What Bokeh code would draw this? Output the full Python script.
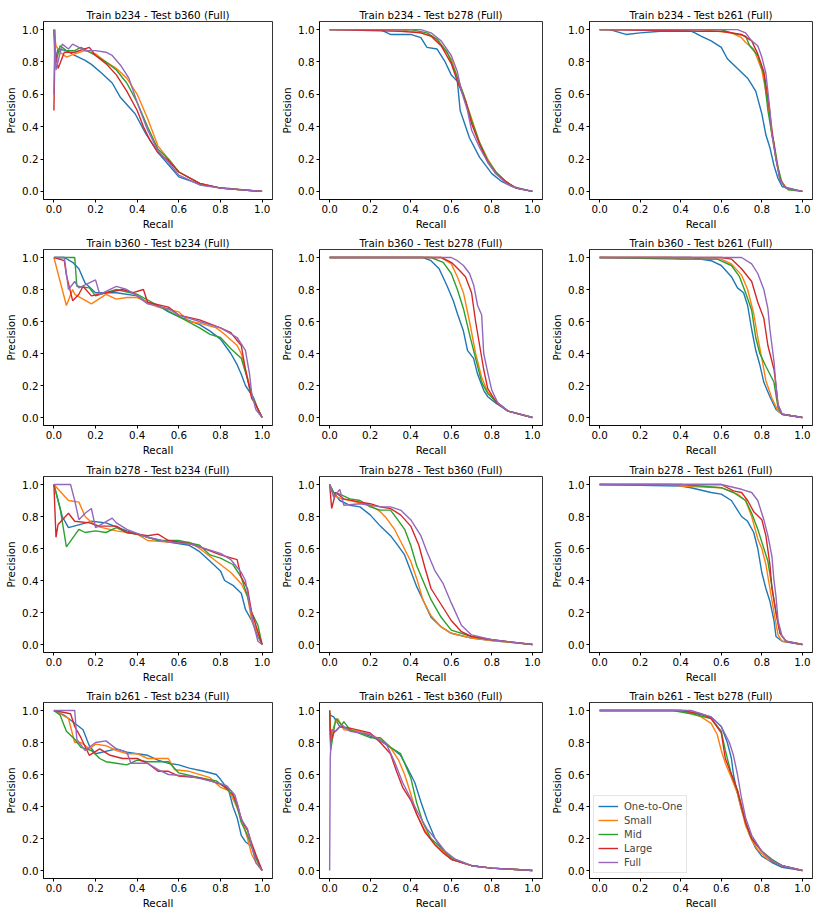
from bokeh.plotting import figure
from bokeh.layouts import gridplot
from bokeh.models import FixedTicker, Range1d
from bokeh.embed import file_html
from bokeh.resources import INLINE

SERIES = ["One-to-One", "Small", "Mid", "Large", "Full"]
COLORS = ["#1f77b4", "#ff7f0e", "#2ca02c", "#d62728", "#9467bd"]
TICKS = [0.0, 0.2, 0.4, 0.6, 0.8, 1.0]
TICK_LABELS = ["0.0", "0.2", "0.4", "0.6", "0.8", "1.0"]

# ---- Train b234 - Test b360 ----
B234_B360_ONE = [(0,1.0),(0.005,0.8),(0.02,0.88),(0.06,0.87),(0.1,0.84),(0.15,0.81),(0.18,0.785),(0.23,0.73),(0.28,0.67),(0.32,0.58),(0.39,0.48),(0.44,0.36),(0.5,0.24),(0.6,0.09),(0.71,0.04),(0.79,0.025),(1,0)]
B234_B360_SMALL = [(0,1.0),(0.01,0.9),(0.03,0.86),(0.06,0.83),(0.1,0.85),(0.15,0.87),(0.2,0.85),(0.25,0.8),(0.3,0.76),(0.35,0.7),(0.4,0.6),(0.45,0.45),(0.5,0.28),(0.55,0.2),(0.6,0.12),(0.7,0.05),(0.8,0.02),(1,0)]
B234_B360_MID = [(0,1.0),(0.01,0.8),(0.03,0.9),(0.06,0.87),(0.1,0.87),(0.13,0.89),(0.2,0.84),(0.25,0.8),(0.3,0.75),(0.35,0.67),(0.4,0.55),(0.45,0.4),(0.5,0.26),(0.55,0.2),(0.6,0.12),(0.7,0.05),(0.8,0.02),(1,0)]
B234_B360_LARGE = [(0,0.5),(0.005,0.88),(0.02,0.76),(0.05,0.86),(0.1,0.86),(0.17,0.89),(0.2,0.84),(0.25,0.79),(0.3,0.72),(0.35,0.62),(0.4,0.5),(0.43,0.4),(0.46,0.32),(0.5,0.24),(0.55,0.19),(0.6,0.12),(0.7,0.05),(0.8,0.02),(1,0)]
B234_B360_FULL = [(0,0.6),(0.005,1.0),(0.01,0.75),(0.04,0.91),(0.07,0.88),(0.09,0.91),(0.15,0.87),(0.2,0.87),(0.25,0.86),(0.28,0.84),(0.32,0.78),(0.36,0.7),(0.4,0.55),(0.45,0.38),(0.5,0.25),(0.55,0.18),(0.6,0.1),(0.7,0.04),(0.8,0.02),(1,0)]

# ---- Train b234 - Test b278 ----
B234_B278_ONE = [(0,1),(0.25,1),(0.3,0.97),(0.4,0.97),(0.45,0.95),(0.48,0.89),(0.53,0.88),(0.57,0.8),(0.6,0.72),(0.63,0.68),(0.644,0.5),(0.69,0.33),(0.74,0.21),(0.8,0.11),(0.85,0.06),(0.9,0.03),(1,0)]
B234_B278_SMALL = [(0,1),(0.35,1),(0.45,0.98),(0.5,0.96),(0.55,0.9),(0.6,0.82),(0.63,0.7),(0.66,0.6),(0.7,0.45),(0.74,0.3),(0.78,0.2),(0.82,0.12),(0.87,0.06),(0.92,0.02),(1,0)]
B234_B278_MID = [(0,1),(0.4,1),(0.48,0.98),(0.53,0.94),(0.58,0.86),(0.62,0.74),(0.66,0.6),(0.7,0.44),(0.74,0.3),(0.78,0.19),(0.82,0.12),(0.87,0.06),(0.92,0.02),(1,0)]
B234_B278_LARGE = [(0,1),(0.35,0.99),(0.45,0.98),(0.5,0.96),(0.55,0.9),(0.6,0.79),(0.63,0.68),(0.67,0.56),(0.7,0.42),(0.74,0.29),(0.78,0.18),(0.82,0.11),(0.87,0.06),(0.92,0.02),(1,0)]
B234_B278_FULL = [(0,1),(0.45,1),(0.5,0.98),(0.55,0.93),(0.6,0.84),(0.63,0.74),(0.65,0.62),(0.68,0.5),(0.7,0.38),(0.74,0.27),(0.78,0.18),(0.82,0.11),(0.87,0.05),(0.92,0.02),(1,0)]

# ---- Train b234 - Test b261 ----
B234_B261_ONE = [(0,1),(0.05,1),(0.13,0.97),(0.2,0.98),(0.3,0.99),(0.45,0.99),(0.47,0.98),(0.5,0.96),(0.55,0.93),(0.6,0.89),(0.63,0.82),(0.68,0.76),(0.73,0.7),(0.77,0.62),(0.8,0.48),(0.82,0.35),(0.84,0.27),(0.86,0.16),(0.88,0.08),(0.9,0.03),(1,0)]
B234_B261_SMALL = [(0,1),(0.5,1),(0.65,0.98),(0.7,0.95),(0.72,0.92),(0.76,0.88),(0.8,0.75),(0.83,0.55),(0.85,0.35),(0.87,0.2),(0.89,0.08),(0.92,0.02),(1,0)]
B234_B261_MID = [(0,1),(0.6,1),(0.65,0.98),(0.72,0.96),(0.74,0.9),(0.78,0.84),(0.81,0.72),(0.83,0.5),(0.85,0.35),(0.86,0.3),(0.88,0.15),(0.9,0.05),(0.93,0.01),(1,0)]
B234_B261_LARGE = [(0,1),(0.5,0.99),(0.6,0.99),(0.7,0.97),(0.75,0.93),(0.78,0.85),(0.81,0.74),(0.83,0.58),(0.85,0.38),(0.87,0.2),(0.89,0.07),(0.92,0.02),(1,0)]
B234_B261_FULL = [(0,1),(0.68,1),(0.72,0.98),(0.75,0.93),(0.78,0.9),(0.8,0.83),(0.82,0.73),(0.84,0.5),(0.85,0.35),(0.87,0.2),(0.89,0.07),(0.92,0.02),(1,0)]

# ---- Train b360 - Test b234 ----
B360_B234_ONE = [(0,1),(0.05,1),(0.09,0.97),(0.12,0.93),(0.15,0.84),(0.2,0.78),(0.3,0.78),(0.4,0.76),(0.45,0.72),(0.5,0.7),(0.55,0.66),(0.6,0.63),(0.7,0.58),(0.75,0.54),(0.8,0.49),(0.85,0.4),(0.88,0.33),(0.9,0.27),(0.92,0.2),(0.94,0.16),(0.96,0.12),(0.98,0.05),(1,0)]
B360_B234_SMALL = [(0,1),(0.06,0.7),(0.09,0.8),(0.1,0.77),(0.18,0.71),(0.25,0.77),(0.3,0.74),(0.35,0.75),(0.4,0.75),(0.5,0.69),(0.6,0.66),(0.65,0.6),(0.7,0.59),(0.78,0.56),(0.82,0.52),(0.88,0.45),(0.9,0.4),(0.93,0.25),(0.95,0.13),(0.97,0.08),(1,0)]
B360_B234_MID = [(0,1),(0.04,1),(0.1,1),(0.11,0.82),(0.17,0.81),(0.2,0.76),(0.3,0.8),(0.4,0.77),(0.5,0.7),(0.6,0.63),(0.7,0.56),(0.75,0.52),(0.8,0.5),(0.85,0.43),(0.9,0.37),(0.93,0.24),(0.95,0.15),(0.97,0.08),(1,0)]
B360_B234_LARGE = [(0,1),(0.05,0.98),(0.06,0.89),(0.09,0.73),(0.12,0.77),(0.14,0.82),(0.18,0.76),(0.25,0.78),(0.33,0.8),(0.38,0.78),(0.43,0.8),(0.45,0.72),(0.55,0.69),(0.6,0.64),(0.7,0.61),(0.8,0.56),(0.85,0.53),(0.9,0.45),(0.92,0.3),(0.95,0.12),(0.97,0.08),(1,0)]
B360_B234_FULL = [(0,1),(0.05,1),(0.07,0.8),(0.1,0.85),(0.12,0.81),(0.2,0.86),(0.22,0.77),(0.3,0.82),(0.35,0.8),(0.4,0.76),(0.45,0.71),(0.55,0.68),(0.6,0.64),(0.7,0.6),(0.8,0.56),(0.88,0.5),(0.9,0.46),(0.92,0.42),(0.94,0.27),(0.95,0.15),(0.97,0.05),(1,0)]

# ---- Train b360 - Test b278 ----
B360_B278_ONE = [(0,1),(0.46,1),(0.5,0.98),(0.54,0.93),(0.58,0.82),(0.61,0.73),(0.63,0.65),(0.66,0.54),(0.68,0.42),(0.71,0.37),(0.73,0.27),(0.76,0.17),(0.78,0.13),(0.82,0.09),(0.88,0.04),(1,0)]
B360_B278_SMALL = [(0,1),(0.55,1),(0.6,0.96),(0.63,0.88),(0.66,0.78),(0.69,0.6),(0.72,0.4),(0.75,0.25),(0.78,0.16),(0.82,0.1),(0.88,0.04),(1,0)]
B360_B278_MID = [(0,1),(0.5,1),(0.56,0.97),(0.6,0.9),(0.63,0.8),(0.66,0.68),(0.69,0.52),(0.72,0.37),(0.75,0.22),(0.78,0.15),(0.82,0.1),(0.88,0.04),(1,0)]
B360_B278_LARGE = [(0,1),(0.55,1),(0.6,0.97),(0.64,0.92),(0.67,0.88),(0.7,0.78),(0.72,0.6),(0.74,0.45),(0.76,0.3),(0.78,0.18),(0.82,0.1),(0.88,0.04),(1,0)]
B360_B278_FULL = [(0,1),(0.6,1),(0.63,0.98),(0.66,0.95),(0.69,0.9),(0.71,0.83),(0.73,0.7),(0.75,0.64),(0.76,0.4),(0.78,0.28),(0.8,0.17),(0.83,0.09),(0.88,0.04),(1,0)]

# ---- Train b360 - Test b261 ----
B360_B261_ONE = [(0,1),(0.45,1),(0.55,0.98),(0.6,0.95),(0.65,0.88),(0.68,0.81),(0.71,0.78),(0.73,0.7),(0.75,0.55),(0.77,0.42),(0.79,0.33),(0.81,0.22),(0.84,0.13),(0.87,0.05),(0.9,0.02),(1,0)]
B360_B261_SMALL = [(0,1),(0.35,1),(0.4,0.99),(0.6,0.99),(0.65,0.96),(0.7,0.89),(0.73,0.8),(0.76,0.65),(0.78,0.5),(0.8,0.37),(0.82,0.23),(0.85,0.12),(0.88,0.04),(0.9,0.02),(1,0)]
B360_B261_MID = [(0,1),(0.4,0.99),(0.58,0.99),(0.65,0.95),(0.69,0.88),(0.72,0.78),(0.75,0.67),(0.77,0.5),(0.79,0.4),(0.82,0.32),(0.86,0.22),(0.88,0.06),(0.9,0.02),(1,0)]
B360_B261_LARGE = [(0,1),(0.6,1),(0.65,0.99),(0.7,0.93),(0.75,0.85),(0.78,0.72),(0.81,0.62),(0.83,0.45),(0.86,0.3),(0.87,0.2),(0.88,0.08),(0.9,0.02),(1,0)]
B360_B261_FULL = [(0,1),(0.7,1),(0.75,0.96),(0.78,0.9),(0.81,0.8),(0.83,0.68),(0.84,0.55),(0.86,0.35),(0.87,0.2),(0.88,0.08),(0.9,0.02),(1,0)]

# ---- Train b278 - Test b234 ----
B278_B234_ONE = [(0,1),(0.04,0.8),(0.07,0.73),(0.18,0.77),(0.25,0.76),(0.35,0.71),(0.45,0.67),(0.55,0.64),(0.65,0.62),(0.7,0.58),(0.75,0.52),(0.8,0.46),(0.82,0.4),(0.86,0.37),(0.9,0.32),(0.92,0.22),(0.95,0.15),(0.98,0.05),(1,0)]
B278_B234_SMALL = [(0,1),(0.07,0.9),(0.12,0.89),(0.15,0.8),(0.2,0.74),(0.3,0.71),(0.4,0.69),(0.45,0.65),(0.55,0.64),(0.65,0.64),(0.7,0.6),(0.75,0.55),(0.8,0.5),(0.85,0.45),(0.9,0.38),(0.93,0.3),(0.95,0.15),(0.97,0.1),(1,0)]
B278_B234_MID = [(0,1),(0.03,0.85),(0.06,0.61),(0.12,0.72),(0.15,0.7),(0.2,0.71),(0.25,0.7),(0.3,0.73),(0.35,0.7),(0.4,0.69),(0.5,0.65),(0.6,0.65),(0.7,0.62),(0.75,0.56),(0.8,0.54),(0.86,0.5),(0.9,0.42),(0.93,0.3),(0.95,0.2),(0.98,0.12),(1,0)]
B278_B234_LARGE = [(0,1),(0.01,0.67),(0.02,0.75),(0.07,0.82),(0.1,0.77),(0.17,0.76),(0.22,0.74),(0.3,0.74),(0.35,0.7),(0.45,0.68),(0.5,0.69),(0.55,0.65),(0.65,0.63),(0.7,0.61),(0.8,0.56),(0.88,0.53),(0.9,0.42),(0.93,0.35),(0.95,0.2),(0.98,0.08),(1,0)]
B278_B234_FULL = [(0,1),(0.08,1),(0.1,0.9),(0.12,0.78),(0.15,0.82),(0.18,0.85),(0.2,0.73),(0.28,0.79),(0.3,0.76),(0.35,0.72),(0.45,0.67),(0.55,0.64),(0.65,0.63),(0.7,0.61),(0.8,0.57),(0.85,0.53),(0.9,0.45),(0.92,0.4),(0.94,0.25),(0.96,0.12),(0.98,0.02),(1,0)]

# ---- Train b278 - Test b360 ----
B278_B360_ONE = [(0,1),(0.02,0.95),(0.05,0.9),(0.1,0.87),(0.15,0.86),(0.2,0.81),(0.25,0.74),(0.3,0.68),(0.33,0.63),(0.37,0.56),(0.4,0.46),(0.43,0.36),(0.46,0.28),(0.5,0.17),(0.55,0.11),(0.6,0.07),(0.7,0.04),(0.8,0.025),(1,0)]
B278_B360_SMALL = [(0,1),(0.02,0.93),(0.06,0.91),(0.1,0.9),(0.2,0.87),(0.25,0.83),(0.28,0.79),(0.32,0.72),(0.36,0.62),(0.4,0.52),(0.43,0.41),(0.46,0.28),(0.5,0.18),(0.55,0.11),(0.6,0.07),(0.7,0.04),(0.8,0.025),(1,0)]
B278_B360_MID = [(0,1),(0.02,0.95),(0.05,0.94),(0.1,0.91),(0.15,0.9),(0.2,0.86),(0.25,0.84),(0.3,0.84),(0.33,0.79),(0.37,0.72),(0.4,0.62),(0.43,0.49),(0.46,0.4),(0.5,0.28),(0.55,0.17),(0.6,0.09),(0.7,0.05),(0.8,0.03),(1,0)]
B278_B360_LARGE = [(0,1),(0.01,0.85),(0.03,0.95),(0.07,0.91),(0.15,0.89),(0.2,0.88),(0.25,0.86),(0.3,0.85),(0.35,0.81),(0.4,0.74),(0.44,0.62),(0.47,0.48),(0.5,0.35),(0.55,0.25),(0.6,0.15),(0.65,0.08),(0.7,0.05),(0.8,0.03),(1,0)]
B278_B360_FULL = [(0,1),(0.02,0.92),(0.05,0.97),(0.07,0.87),(0.15,0.88),(0.25,0.86),(0.3,0.86),(0.35,0.84),(0.4,0.78),(0.45,0.68),(0.48,0.58),(0.52,0.46),(0.56,0.38),(0.6,0.26),(0.65,0.12),(0.7,0.06),(0.8,0.03),(1,0)]

# ---- Train b278 - Test b261 ----
B278_B261_ONE = [(0,1),(0.4,0.99),(0.45,0.98),(0.55,0.95),(0.6,0.94),(0.65,0.9),(0.7,0.8),(0.73,0.77),(0.76,0.7),(0.78,0.6),(0.8,0.45),(0.82,0.35),(0.84,0.27),(0.86,0.15),(0.87,0.05),(0.9,0.02),(1,0)]
B278_B261_SMALL = [(0,1),(0.35,1),(0.4,0.99),(0.6,0.98),(0.68,0.94),(0.72,0.9),(0.75,0.8),(0.78,0.66),(0.8,0.6),(0.82,0.5),(0.84,0.35),(0.86,0.2),(0.88,0.06),(0.9,0.02),(1,0)]
B278_B261_MID = [(0,1),(0.4,1),(0.6,0.98),(0.66,0.95),(0.72,0.9),(0.75,0.82),(0.78,0.72),(0.8,0.64),(0.83,0.52),(0.85,0.36),(0.87,0.2),(0.89,0.07),(0.92,0.02),(1,0)]
B278_B261_LARGE = [(0,1),(0.6,1),(0.66,0.96),(0.7,0.95),(0.73,0.9),(0.76,0.83),(0.8,0.78),(0.82,0.68),(0.84,0.5),(0.85,0.35),(0.87,0.2),(0.89,0.07),(0.92,0.02),(1,0)]
B278_B261_FULL = [(0,1),(0.6,1),(0.7,0.97),(0.75,0.95),(0.78,0.9),(0.81,0.78),(0.83,0.68),(0.85,0.55),(0.86,0.4),(0.87,0.3),(0.88,0.15),(0.9,0.05),(0.92,0.02),(1,0)]

# ---- Train b261 - Test b234 ----
B261_B234_ONE = [(0,1),(0.05,0.97),(0.1,0.92),(0.14,0.88),(0.17,0.78),(0.2,0.73),(0.3,0.76),(0.35,0.74),(0.4,0.73),(0.45,0.72),(0.5,0.69),(0.55,0.67),(0.6,0.66),(0.65,0.64),(0.72,0.62),(0.78,0.6),(0.8,0.57),(0.84,0.5),(0.86,0.4),(0.88,0.33),(0.9,0.22),(0.92,0.18),(0.95,0.15),(0.97,0.08),(1,0)]
B261_B234_SMALL = [(0,1),(0.07,0.95),(0.1,0.8),(0.13,0.8),(0.17,0.76),(0.2,0.79),(0.25,0.78),(0.3,0.75),(0.35,0.73),(0.4,0.73),(0.45,0.7),(0.55,0.7),(0.58,0.63),(0.65,0.62),(0.75,0.58),(0.8,0.52),(0.84,0.5),(0.87,0.42),(0.9,0.33),(0.93,0.2),(0.95,0.1),(0.97,0.05),(1,0)]
B261_B234_MID = [(0,1),(0.03,0.97),(0.06,0.87),(0.1,0.82),(0.13,0.77),(0.18,0.75),(0.22,0.7),(0.25,0.68),(0.3,0.67),(0.35,0.66),(0.4,0.69),(0.45,0.68),(0.55,0.68),(0.6,0.61),(0.7,0.58),(0.78,0.56),(0.82,0.52),(0.86,0.47),(0.88,0.4),(0.9,0.3),(0.93,0.22),(0.95,0.15),(0.97,0.08),(1,0)]
B261_B234_LARGE = [(0,1),(0.08,0.98),(0.1,0.9),(0.13,0.83),(0.17,0.72),(0.22,0.76),(0.27,0.72),(0.33,0.7),(0.4,0.7),(0.45,0.67),(0.5,0.62),(0.55,0.62),(0.6,0.59),(0.7,0.58),(0.8,0.54),(0.85,0.5),(0.88,0.42),(0.9,0.32),(0.93,0.25),(0.95,0.17),(0.97,0.1),(1,0)]
B261_B234_FULL = [(0,1),(0.1,1),(0.11,0.82),(0.15,0.75),(0.2,0.8),(0.25,0.81),(0.3,0.76),(0.35,0.74),(0.37,0.67),(0.45,0.67),(0.5,0.63),(0.55,0.6),(0.65,0.59),(0.75,0.56),(0.83,0.53),(0.87,0.47),(0.9,0.32),(0.93,0.26),(0.95,0.15),(0.97,0.05),(1,0)]

# ---- Train b261 - Test b360 ----
B261_B360_ONE = [(0,0.98),(0.005,0.97),(0.02,0.96),(0.05,0.9),(0.1,0.88),(0.15,0.86),(0.2,0.84),(0.25,0.81),(0.3,0.77),(0.35,0.72),(0.38,0.65),(0.42,0.55),(0.45,0.43),(0.48,0.32),(0.52,0.2),(0.56,0.12),(0.6,0.07),(0.7,0.03),(0.8,0.015),(1,0)]
B261_B360_SMALL = [(0,1),(0.005,0.8),(0.02,0.9),(0.04,0.95),(0.07,0.88),(0.15,0.87),(0.2,0.85),(0.25,0.82),(0.3,0.77),(0.34,0.69),(0.37,0.6),(0.4,0.48),(0.43,0.35),(0.47,0.25),(0.52,0.16),(0.56,0.12),(0.6,0.07),(0.7,0.03),(0.8,0.015),(1,0)]
B261_B360_MID = [(0,1),(0.005,0.75),(0.03,0.95),(0.06,0.91),(0.07,0.93),(0.1,0.88),(0.2,0.83),(0.25,0.83),(0.3,0.77),(0.35,0.73),(0.4,0.58),(0.43,0.42),(0.46,0.3),(0.5,0.2),(0.55,0.14),(0.6,0.08),(0.7,0.03),(0.8,0.015),(1,0)]
B261_B360_LARGE = [(0,1),(0.005,0.8),(0.02,0.86),(0.05,0.9),(0.1,0.89),(0.2,0.86),(0.25,0.8),(0.3,0.73),(0.33,0.62),(0.36,0.52),(0.4,0.44),(0.43,0.35),(0.47,0.24),(0.52,0.16),(0.56,0.11),(0.6,0.07),(0.7,0.03),(0.8,0.015),(1,0)]
B261_B360_FULL = [(0,0.0),(0.003,0.7),(0.01,0.88),(0.03,0.87),(0.06,0.91),(0.1,0.87),(0.2,0.85),(0.28,0.79),(0.32,0.68),(0.36,0.55),(0.4,0.45),(0.44,0.35),(0.48,0.26),(0.52,0.2),(0.57,0.12),(0.62,0.07),(0.7,0.03),(0.8,0.015),(1,0)]

# ---- Train b261 - Test b278 ----
B261_B278_ONE = [(0,1),(0.4,1),(0.48,0.98),(0.55,0.96),(0.6,0.9),(0.63,0.8),(0.65,0.7),(0.66,0.6),(0.68,0.48),(0.7,0.38),(0.72,0.3),(0.74,0.22),(0.77,0.14),(0.8,0.09),(0.85,0.05),(0.9,0.02),(1,0)]
B261_B278_SMALL = [(0,1),(0.42,1),(0.5,0.96),(0.55,0.92),(0.58,0.85),(0.6,0.75),(0.62,0.67),(0.65,0.58),(0.68,0.48),(0.7,0.38),(0.72,0.28),(0.75,0.19),(0.78,0.13),(0.83,0.07),(0.9,0.03),(1,0)]
B261_B278_MID = [(0,1),(0.36,1),(0.45,0.98),(0.55,0.95),(0.6,0.87),(0.62,0.75),(0.65,0.6),(0.68,0.5),(0.7,0.4),(0.72,0.3),(0.75,0.2),(0.8,0.12),(0.85,0.07),(0.9,0.03),(1,0)]
B261_B278_LARGE = [(0,1),(0.4,1),(0.5,0.98),(0.55,0.95),(0.6,0.86),(0.62,0.7),(0.65,0.6),(0.68,0.5),(0.7,0.4),(0.72,0.3),(0.75,0.2),(0.8,0.12),(0.85,0.06),(0.9,0.03),(1,0)]
B261_B278_FULL = [(0,1),(0.45,1),(0.55,0.96),(0.6,0.9),(0.64,0.8),(0.66,0.72),(0.68,0.6),(0.7,0.45),(0.72,0.33),(0.75,0.22),(0.8,0.12),(0.85,0.06),(0.9,0.03),(1,0)]

PANELS = [
    ("Train b234 - Test b360 (Full)", [B234_B360_ONE, B234_B360_SMALL, B234_B360_MID, B234_B360_LARGE, B234_B360_FULL]),
    ("Train b234 - Test b278 (Full)", [B234_B278_ONE, B234_B278_SMALL, B234_B278_MID, B234_B278_LARGE, B234_B278_FULL]),
    ("Train b234 - Test b261 (Full)", [B234_B261_ONE, B234_B261_SMALL, B234_B261_MID, B234_B261_LARGE, B234_B261_FULL]),
    ("Train b360 - Test b234 (Full)", [B360_B234_ONE, B360_B234_SMALL, B360_B234_MID, B360_B234_LARGE, B360_B234_FULL]),
    ("Train b360 - Test b278 (Full)", [B360_B278_ONE, B360_B278_SMALL, B360_B278_MID, B360_B278_LARGE, B360_B278_FULL]),
    ("Train b360 - Test b261 (Full)", [B360_B261_ONE, B360_B261_SMALL, B360_B261_MID, B360_B261_LARGE, B360_B261_FULL]),
    ("Train b278 - Test b234 (Full)", [B278_B234_ONE, B278_B234_SMALL, B278_B234_MID, B278_B234_LARGE, B278_B234_FULL]),
    ("Train b278 - Test b360 (Full)", [B278_B360_ONE, B278_B360_SMALL, B278_B360_MID, B278_B360_LARGE, B278_B360_FULL]),
    ("Train b278 - Test b261 (Full)", [B278_B261_ONE, B278_B261_SMALL, B278_B261_MID, B278_B261_LARGE, B278_B261_FULL]),
    ("Train b261 - Test b234 (Full)", [B261_B234_ONE, B261_B234_SMALL, B261_B234_MID, B261_B234_LARGE, B261_B234_FULL]),
    ("Train b261 - Test b360 (Full)", [B261_B360_ONE, B261_B360_SMALL, B261_B360_MID, B261_B360_LARGE, B261_B360_FULL]),
    ("Train b261 - Test b278 (Full)", [B261_B278_ONE, B261_B278_SMALL, B261_B278_MID, B261_B278_LARGE, B261_B278_FULL]),
]

# layout: per-column widths/borders and per-row heights/borders
COL_W = [278, 270, 272]
COL_LEFT = [43, 35, 35]
ROW_H = [234, 227, 226, 224]
ROW_TOP = [21, 13, 13, 13]

FONT = "DejaVu Sans"
figs = []
for idx, (title, series) in enumerate(PANELS):
    r, c = divmod(idx, 3)
    frame_w = 229
    frame_h = 178
    p = figure(width=COL_W[c], height=ROW_H[r], output_backend="svg", toolbar_location=None,
               x_range=Range1d(-0.05, 1.05), y_range=Range1d(-0.05, 1.05),
               min_border_left=COL_LEFT[c], min_border_right=COL_W[c] - COL_LEFT[c] - frame_w,
               min_border_top=ROW_TOP[r], min_border_bottom=ROW_H[r] - ROW_TOP[r] - frame_h)
    p.title.text = title
    p.title.text_font = FONT
    p.title.text_font_size = "10.3px"
    p.title.text_font_style = "normal"
    p.title.align = "center"
    p.title.standoff = 1
    p.title.text_color = "#000000"
    p.grid.visible = False
    p.outline_line_color = "#000000"
    p.outline_line_width = 0.8
    p.background_fill_color = "white"
    p.border_fill_color = "white"
    for ax in (p.xaxis[0], p.yaxis[0]):
        ax.ticker = FixedTicker(ticks=TICKS)
        ax.major_label_overrides = {t: l for t, l in zip(TICKS, TICK_LABELS)}
        ax.major_label_text_font = FONT
        ax.major_label_text_font_size = "10.3px"
        ax.major_label_text_color = "#000000"
        ax.axis_label_text_font = FONT
        ax.axis_label_text_font_size = "10.3px"
        ax.axis_label_text_font_style = "normal"
        ax.axis_label_text_color = "#000000"
        ax.minor_tick_line_color = None
        ax.major_tick_out = 3
        ax.major_tick_in = 0
        ax.major_tick_line_color = "#000000"
        ax.axis_line_color = "#000000"
        ax.axis_line_width = 0.8
        ax.major_label_standoff = 2
        ax.axis_label_standoff = 2
    p.xaxis.axis_label = "Recall"
    p.yaxis.axis_label = "Precision"
    for name, color, pts in zip(SERIES, COLORS, series):
        xs = [a for a, b in pts]
        ys = [b for a, b in pts]
        if idx == len(PANELS) - 1:
            p.line(xs, ys, line_color=color, line_width=1.4, legend_label=name)
        else:
            p.line(xs, ys, line_color=color, line_width=1.4)
    if idx == len(PANELS) - 1:
        lg = p.legend[0]
        lg.location = (4, 5)
        lg.label_text_font = FONT
        lg.label_text_font_size = "10px"
        lg.glyph_width = 20
        lg.glyph_height = 12
        lg.label_height = 12
        lg.spacing = 2
        lg.padding = 4
        lg.margin = 0
        lg.label_standoff = 6
        lg.border_line_color = "#cccccc"
        lg.background_fill_alpha = 0.8
    figs.append(p)

grid = gridplot(figs, ncols=3, toolbar_location=None)
open("out.html", "w").write(file_html(grid, INLINE))
